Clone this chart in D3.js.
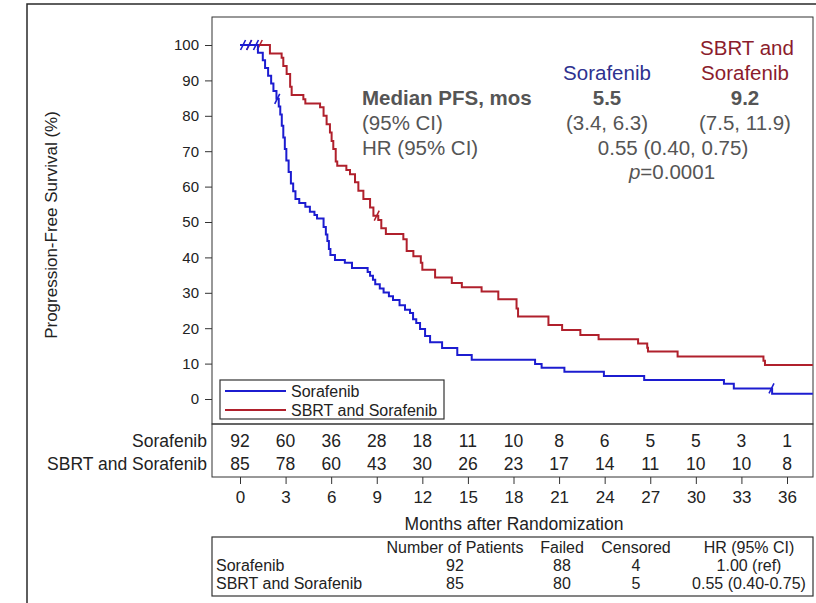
<!DOCTYPE html>
<html>
<head>
<meta charset="utf-8">
<script src="https://cdn.jsdelivr.net/npm/d3@7"></script>
<style>
  html, body { margin: 0; padding: 0; background: #fff; }
  svg { display: block; font-family: "Liberation Sans", Arial, sans-serif; }
</style>
</head>
<body>
<svg id="chart" width="816" height="603"></svg>
<script>
// Kaplan–Meier step estimates, [months, PFS %] after each drop
const sorafenibSteps = [
  [0, 100], [1.18, 97.8], [1.5, 95.7], [1.65, 93.5], [1.85, 91.3], [2.05, 89.1],
  [2.2, 87.0], [2.4, 84.8], [2.55, 82.6], [2.65, 80.4], [2.75, 77.2], [2.85, 73.9],
  [2.95, 70.6], [3.05, 67.4], [3.2, 64.1], [3.35, 60.9], [3.5, 58.7], [3.65, 56.5],
  [3.9, 55.4], [4.3, 54.3], [4.6, 52.9], [4.9, 52.0], [5.07, 51.0], [5.5, 48.6],
  [5.65, 46.5], [5.75, 44.6], [5.85, 42.4], [5.95, 40.7], [6.25, 39.3], [6.9, 38.5],
  [7.37, 37.0], [8.4, 35.9], [8.56, 34.8], [8.75, 33.7], [8.9, 32.4], [9.2, 31.2],
  [9.45, 30.1], [9.8, 29.0], [10.07, 28.0], [10.5, 26.5], [10.86, 25.2], [11.19, 24.3],
  [11.39, 22.5], [11.6, 21.5], [11.85, 19.8], [12.18, 17.8], [12.51, 16.0], [13.3, 14.4],
  [14.3, 12.4], [15.25, 11.1], [19.42, 9.9], [19.85, 8.8], [21.35, 7.7], [23.95, 6.5],
  [26.6, 5.4], [31.85, 4.3], [32.5, 3.0], [35.02, 1.5], [37.7, 1.5]
];
const sbrtSteps = [
  [0, 100], [1.97, 97.6], [2.74, 96.4], [2.85, 94.1], [3.07, 91.8], [3.3, 88.2],
  [3.4, 85.9], [4.17, 84.7], [4.3, 83.5], [5.27, 82.4], [5.5, 80.0], [5.7, 77.6],
  [5.92, 75.3], [6.03, 72.9], [6.14, 70.6], [6.3, 67.1], [6.4, 65.9], [7.0, 64.7],
  [7.24, 63.5], [7.57, 61.2], [7.79, 58.8], [8.12, 56.5], [8.56, 54.1], [8.78, 51.8],
  [9.1, 50.6], [9.3, 48.2], [9.6, 46.6], [10.75, 45.1], [10.97, 41.8], [11.41, 40.3],
  [11.9, 38.5], [12.0, 36.5], [12.84, 34.3], [13.94, 32.8], [14.6, 31.6], [15.9, 30.4],
  [17.0, 28.2], [18.2, 25.6], [18.3, 23.3], [20.3, 20.9], [21.2, 19.5], [22.4, 18.1],
  [23.6, 16.9], [26.2, 15.7], [26.8, 14.5], [26.85, 13.4], [28.8, 12.0], [34.45, 10.8],
  [34.55, 9.6], [37.7, 9.6]
];

// Censoring times (months)
const sorafenibCensored = [0.2, 0.6, 1.05, 2.45, 34.98];
const sbrtCensored = [0.6, 1.3, 9.0];

// Number at risk
const riskMonths = [0, 3, 6, 9, 12, 15, 18, 21, 24, 27, 30, 33, 36];
const riskSorafenib = [92, 60, 36, 28, 18, 11, 10, 8, 6, 5, 5, 3, 1];
const riskSbrt = [85, 78, 60, 43, 30, 26, 23, 17, 14, 11, 10, 10, 8];

const yTicks = [0, 10, 20, 30, 40, 50, 60, 70, 80, 90, 100];

const armNames = ["Sorafenib", "SBRT and Sorafenib"];
const armColors = ["#1c1cd0", "#b0202c"];

// Summary table
const tableHeader = ["", "Number of Patients", "Failed", "Censored", "HR (95% CI)"];
const tablePatients = [92, 85];
const tableFailed = [88, 80];
const tableCensored = [4, 5];
const tableHR = ["1.00 (ref)", "0.55 (0.40-0.75)"];

// Median PFS annotation
const medianPFS = ["5.5", "9.2"];
const medianCI = ["(3.4, 6.3)", "(7.5, 11.9)"];
const hrText = "0.55 (0.40, 0.75)";
const pText = "0.0001";

const svg = d3.select("#chart");
const frame = { left: 212, right: 813, top: 17, bottom: 424 };
const x = d3.scaleLinear().domain([0, 36]).range([240, 787]);
const y = d3.scaleLinear().domain([0, 100]).range([399, 45]);
const fontFam = '"Liberation Sans", Arial, sans-serif';

// Outer figure border
svg.append("path")
  .attr("d", "M27,603 L27,4 L816,4")
  .attr("fill", "none").attr("stroke", "#2a2a2a").attr("stroke-width", 1.5);

// Plot frame
svg.append("rect")
  .attr("x", frame.left).attr("y", frame.top)
  .attr("width", frame.right - frame.left).attr("height", frame.bottom - frame.top)
  .attr("fill", "none").attr("stroke", "#333").attr("stroke-width", 1);

// Y axis
const yAxis = svg.append("g")
  .attr("transform", `translate(${frame.left},0)`)
  .call(d3.axisLeft(y).tickValues(yTicks).tickSize(7).tickSizeOuter(0).tickPadding(6));
yAxis.select(".domain").remove();
yAxis.selectAll("line").attr("stroke", "#333");
yAxis.selectAll("text").attr("font-size", 15).attr("font-family", fontFam).attr("fill", "#222");

svg.append("text")
  .attr("transform", "translate(57,225) rotate(-90)")
  .attr("text-anchor", "middle")
  .attr("font-size", 17).attr("fill", "#222")
  .text("Progression-Free Survival (%)");

// Survival curves
const clip = svg.append("clipPath").attr("id", "plotClip")
  .append("rect").attr("x", frame.left).attr("y", frame.top)
  .attr("width", frame.right - frame.left).attr("height", frame.bottom - frame.top);

const stepLine = d3.line()
  .x(d => x(d[0])).y(d => y(d[1]))
  .curve(d3.curveStepAfter);

const series = [sbrtSteps, sorafenibSteps];
const seriesColors = [armColors[1], armColors[0]];
const censored = [sbrtCensored, sorafenibCensored];

function survAt(steps, t) {
  let v = steps[0][1];
  for (const s of steps) { if (s[0] <= t) v = s[1]; else break; }
  return v;
}

const curves = svg.append("g").attr("clip-path", "url(#plotClip)");
series.forEach((steps, i) => {
  curves.append("path")
    .datum(steps)
    .attr("d", stepLine)
    .attr("fill", "none")
    .attr("stroke", seriesColors[i])
    .attr("stroke-width", 2);
  curves.selectAll(null)
    .data(censored[i])
    .enter().append("line")
    .attr("x1", t => x(t) - 2.5).attr("y1", t => y(survAt(steps, t)) + 5)
    .attr("x2", t => x(t) + 2.5).attr("y2", t => y(survAt(steps, t)) - 5)
    .attr("stroke", seriesColors[i]).attr("stroke-width", 1.6);
});

// Legend
const legend = svg.append("g");
legend.append("rect")
  .attr("x", 220).attr("y", 380).attr("width", 224).attr("height", 39)
  .attr("fill", "#fff").attr("stroke", "#333").attr("stroke-width", 1.2);
armNames.forEach((name, i) => {
  const ly = 391 + i * 19;
  legend.append("line")
    .attr("x1", 225).attr("x2", 286).attr("y1", ly).attr("y2", ly)
    .attr("stroke", armColors[i]).attr("stroke-width", 2);
  legend.append("text")
    .attr("x", 291).attr("y", ly + 5.5)
    .attr("font-size", 16).attr("fill", "#222")
    .text(name);
});

// Annotation block
const ann = svg.append("g").attr("font-size", 20.5);
ann.append("text").attr("x", 747).attr("y", 55).attr("text-anchor", "middle")
  .attr("fill", "#8b1c2c").text("SBRT and");
ann.append("text").attr("x", 745).attr("y", 80).attr("text-anchor", "middle")
  .attr("fill", "#8b1c2c").text("Sorafenib");
ann.append("text").attr("x", 607).attr("y", 80).attr("text-anchor", "middle")
  .attr("fill", "#2e318f").text(armNames[0]);
ann.append("text").attr("x", 362).attr("y", 105).attr("font-weight", "bold")
  .attr("fill", "#555").text("Median PFS, mos");
ann.selectAll(null).data(medianPFS).enter().append("text")
  .attr("x", (d, i) => [607, 745][i]).attr("y", 105)
  .attr("text-anchor", "middle").attr("font-weight", "bold").attr("fill", "#555")
  .text(d => d);
ann.append("text").attr("x", 362).attr("y", 130).attr("fill", "#555").text("(95% CI)");
ann.selectAll(null).data(medianCI).enter().append("text")
  .attr("x", (d, i) => [607, 745][i]).attr("y", 130)
  .attr("text-anchor", "middle").attr("fill", "#555")
  .text(d => d);
ann.append("text").attr("x", 362).attr("y", 155).attr("fill", "#555").text("HR (95% CI)");
ann.append("text").attr("x", 673).attr("y", 155).attr("text-anchor", "middle")
  .attr("fill", "#555").text(hrText);
const pLine = ann.append("text").attr("x", 672).attr("y", 179).attr("text-anchor", "middle")
  .attr("fill", "#555");
pLine.append("tspan").attr("font-style", "italic").text("p");
pLine.append("tspan").text("=" + pText);

// Number-at-risk table
svg.append("rect")
  .attr("x", frame.left).attr("y", frame.bottom)
  .attr("width", frame.right - frame.left).attr("height", 53)
  .attr("fill", "none").attr("stroke", "#333").attr("stroke-width", 1);

[riskSorafenib, riskSbrt].forEach((row, i) => {
  const ry = 447 + i * 23;
  svg.append("text")
    .attr("x", 207).attr("y", ry).attr("text-anchor", "end")
    .attr("font-size", 17.5).attr("fill", "#222")
    .text(armNames[i]);
  svg.selectAll(null).data(row).enter().append("text")
    .attr("x", (d, j) => x(riskMonths[j])).attr("y", ry)
    .attr("text-anchor", "middle").attr("font-size", 17.5).attr("fill", "#222")
    .text(d => d);
});

// X axis below the risk table
const xAxis = svg.append("g")
  .attr("transform", "translate(0,477)")
  .call(d3.axisBottom(x).tickValues(riskMonths).tickSize(7).tickSizeOuter(0).tickPadding(7));
xAxis.select(".domain").remove();
xAxis.selectAll("line").attr("stroke", "#333");
xAxis.selectAll("text").attr("font-size", 17).attr("font-family", fontFam).attr("fill", "#222");

svg.append("text")
  .attr("x", 514).attr("y", 530).attr("text-anchor", "middle")
  .attr("font-size", 17.5).attr("fill", "#222")
  .text("Months after Randomization");

// Summary table
svg.append("rect")
  .attr("x", frame.left).attr("y", 537)
  .attr("width", frame.right - frame.left).attr("height", 59)
  .attr("fill", "none").attr("stroke", "#333").attr("stroke-width", 1.2);

const colX = [216, 455, 562, 636, 749];
const tf = svg.append("g").attr("font-size", 16).attr("fill", "#222");
tableHeader.forEach((h, j) => {
  tf.append("text").attr("x", colX[j]).attr("y", 553)
    .attr("text-anchor", j === 0 ? "start" : "middle").text(h);
});
armNames.forEach((name, i) => {
  const ry = 571 + i * 18;
  const cells = [name, tablePatients[i], tableFailed[i], tableCensored[i], tableHR[i]];
  cells.forEach((c, j) => {
    tf.append("text").attr("x", colX[j]).attr("y", ry)
      .attr("text-anchor", j === 0 ? "start" : "middle").text(c);
  });
});
</script>
</body>
</html>
